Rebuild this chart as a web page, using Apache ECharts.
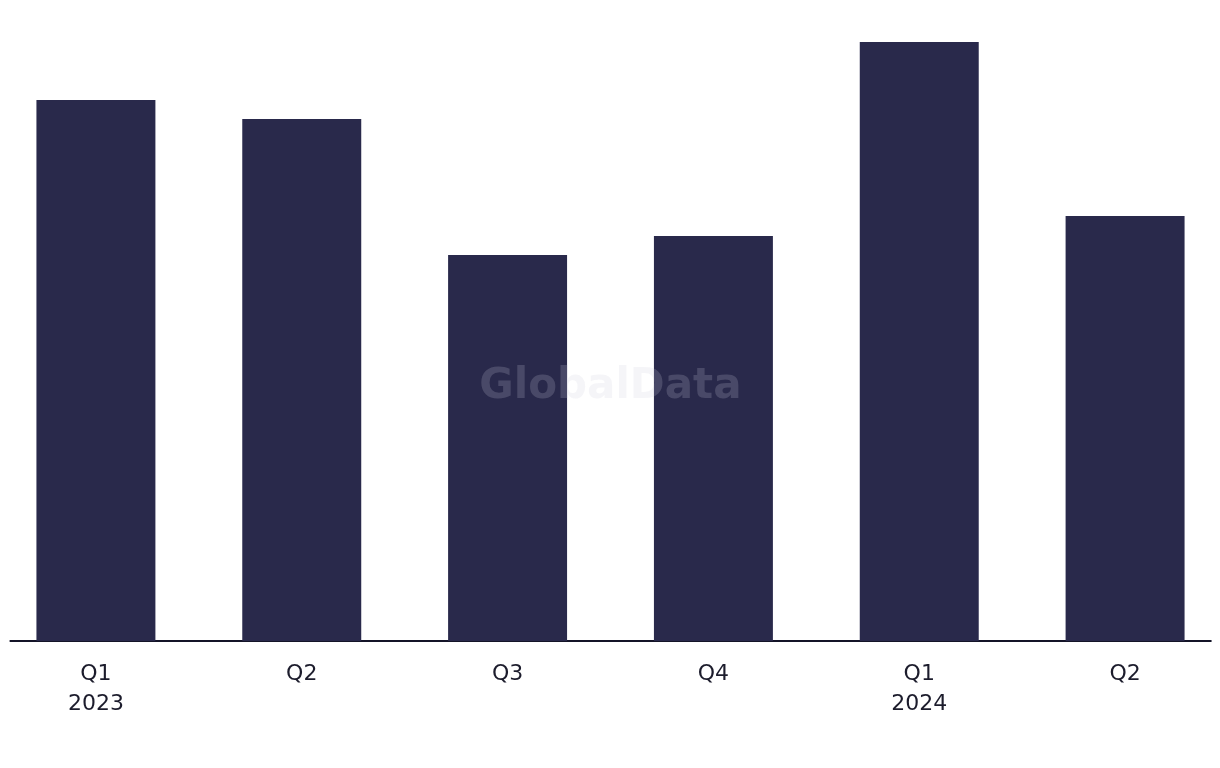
<!DOCTYPE html>
<html>
<head>
<meta charset="utf-8">
<script src="https://cdn.jsdelivr.net/npm/echarts@6/dist/echarts.min.js"></script>
<style>
html,body{margin:0;padding:0;background:#fff;overflow:hidden;width:1220px;height:768px;}
#chart{position:absolute;left:-7.4px;top:0;width:1234.6px;height:768px;}
</style>
</head>
<body>
<div id="chart"></div>
<script>
const categories = ['Q1\n2023', 'Q2', 'Q3', 'Q4', 'Q1\n2024', 'Q2'];
const values = [5.41, 5.22, 3.86, 4.05, 5.99, 4.25];
const yMax = 6.41;

const chart = echarts.init(document.getElementById('chart'));
chart.setOption({
  animation: false,
  grid: [
    {left: 0, right: 0, top: 0, bottom: 127},
    {left: 17.4, right: 17.2, top: 0, bottom: 127}
  ],
  xAxis: [
    {
      type: 'category', gridIndex: 0, data: categories,
      axisLine: {show: false}, axisTick: {show: false},
      axisLabel: {
        color: '#1c1c2c', fontFamily: 'DejaVu Sans', fontSize: 22,
        lineHeight: 30, margin: 18
      }
    },
    {
      type: 'category', gridIndex: 1, data: categories,
      axisLine: {show: true, lineStyle: {color: '#141428', width: 2}},
      axisTick: {show: false}, axisLabel: {show: false}
    }
  ],
  yAxis: [
    {type: 'value', gridIndex: 0, min: 0, max: yMax, show: false},
    {type: 'value', gridIndex: 1, min: 0, max: yMax, show: false}
  ],
  series: [{
    type: 'bar', xAxisIndex: 0, yAxisIndex: 0, data: values,
    barWidth: '57.8%',
    itemStyle: {color: '#29294b'}
  }],
  graphic: [{
    type: 'text', x: 617.4, y: 387, z: 100,
    style: {
      text: 'GlobalData', fontFamily: 'DejaVu Sans', fontWeight: 'bold',
      fontSize: 42, fill: 'rgba(205,205,220,0.2)',
      textAlign: 'center', textVerticalAlign: 'middle'
    }
  }]
});
</script>
</body>
</html>
